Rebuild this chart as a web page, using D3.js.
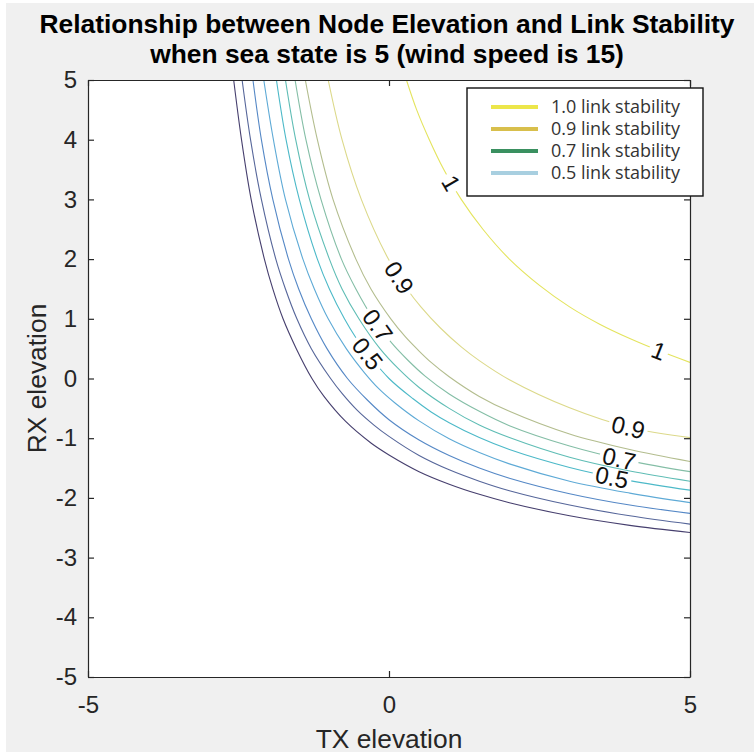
<!DOCTYPE html>
<html>
<head>
<meta charset="utf-8">
<script src="https://cdn.jsdelivr.net/npm/d3@7"></script>
<style>
html,body{margin:0;padding:0;background:#ffffff;}
svg{display:block;}
</style>
</head>
<body>
<svg id="chart" width="754" height="754"></svg>
<script>
// ---------- data ----------
const titleLines = ["Relationship between Node Elevation and Link Stability",
                    "when sea state is 5 (wind speed is 15)"];
const xLabel = "TX elevation";
const yLabel = "RX elevation";
const xTicks = [-5, 0, 5];
const yTicks = [-5, -4, -3, -2, -1, 0, 1, 2, 3, 4, 5];
const levels = [0.1, 0.2, 0.3, 0.4, 0.5, 0.6, 0.7, 0.8, 0.9, 1.0];

// contour lines, [TX elevation, RX elevation] points
const contour01 = [[-2.58,5],[-2.45,4],[-2.29,3],[-2.07,2],[-1.93,1.5],[-1.76,1],[-1.54,0.5],[-1.28,0],[-1.08,-0.3],[-0.72,-0.72],[-0.3,-1.08],[0,-1.28],[0.5,-1.56],[1,-1.77],[1.5,-1.94],[2,-2.08],[3,-2.3],[4,-2.46],[5,-2.58]];
const contour02 = [[-2.44,5],[-2.3,4],[-2.12,3],[-1.88,2],[-1.72,1.5],[-1.53,1],[-1.29,0.5],[-0.97,0],[-0.78,-0.25],[-0.53,-0.53],[-0.25,-0.78],[0,-0.97],[0.5,-1.29],[1,-1.53],[1.5,-1.72],[2,-1.88],[3,-2.12],[4,-2.3],[5,-2.44]];
const contour03 = [[-2.26,5],[-2.12,4],[-1.93,3],[-1.67,2],[-1.5,1.5],[-1.29,1],[-1.03,0.5],[-0.69,0],[-0.36,-0.36],[0,-0.69],[0.5,-1.03],[1,-1.29],[1.5,-1.5],[2,-1.67],[3,-1.93],[4,-2.12],[5,-2.26]];
const contour04 = [[-2.08,5],[-1.92,4],[-1.72,3],[-1.43,2],[-1.24,1.5],[-1.01,1],[-0.71,0.5],[-0.41,0.1],[-0.17,-0.17],[0.1,-0.41],[0.5,-0.71],[1,-1.01],[1.5,-1.24],[2,-1.43],[3,-1.72],[4,-1.92],[5,-2.08]];
const contour05 = [[-1.87,5],[-1.71,4],[-1.49,3],[-1.19,2],[-0.99,1.5],[-0.74,1],[-0.56,0.7],[-0.34,0.4],[0,0],[0.4,-0.34],[0.7,-0.56],[1,-0.74],[1.5,-0.99],[2,-1.19],[3,-1.49],[4,-1.71],[5,-1.87]];
const contour06 = [[-1.72,5],[-1.55,4],[-1.32,3],[-0.99,2],[-0.78,1.5],[-0.5,1],[-0.15,0.5],[0.16,0.16],[0.5,-0.15],[1,-0.5],[1.5,-0.78],[2,-0.99],[3,-1.32],[4,-1.55],[5,-1.72]];
const contour07 = [[-1.56,5],[-1.38,4],[-1.13,3],[-0.79,2],[-0.55,1.5],[-0.26,1],[0.04,0.6],[0.31,0.31],[0.6,0.04],[1,-0.26],[1.5,-0.55],[2,-0.79],[3,-1.13],[4,-1.38],[5,-1.56]];
const contour08 = [[-1.39,5],[-1.19,4],[-0.93,3],[-0.55,2],[-0.3,1.5],[0.03,1],[0.27,0.7],[0.48,0.48],[0.7,0.27],[1,0.03],[1.5,-0.3],[2,-0.55],[3,-0.93],[4,-1.19],[5,-1.39]];
const contour09 = [[-1.01,5],[-0.78,4],[-0.46,3],[-0.01,2],[0.3,1.5],[0.53,1.2],[0.85,0.85],[1.2,0.53],[1.5,0.3],[2,-0.02],[3,-0.49],[4,-0.82],[5,-0.99]];
const contour10 = [[0.29,5],[0.46,4.5],[0.67,4],[0.91,3.5],[1.2,3],[1.56,2.5],[2,2],[2.5,1.56],[3,1.2],[3.5,0.91],[4,0.67],[4.5,0.46],[5,0.27]];
const contours = [contour01, contour02, contour03, contour04, contour05, contour06, contour07, contour08, contour09, contour10];

// contour label anchors (level, approx TX, approx RX)
const labelLevels = [1.0, 1.0, 0.9, 0.9, 0.7, 0.5, 0.7, 0.5];
const labelTX     = [0.90, 4.45, 0.10, 3.95, -0.23, -0.33, 3.80, 3.69];
const labelRX     = [3.20, 0.39, 1.65, -0.91, 0.86, 0.44, -1.45, -1.73];

const legendLabels = ["1.0 link stability", "0.9 link stability", "0.7 link stability", "0.5 link stability"];

// ---------- styles ----------
const lineColors = ["#463f6e","#56669a","#5588c6","#5eaad6","#4cb9c8","#5fbdb5","#84bea6","#b3bd8e","#dcd98a","#e4e45e"];
const legendColors = ["#ece64a","#d8bf4c","#3a9060","#a8cfe0"];
const FONT = '"Liberation Sans", Arial, Helvetica, sans-serif';

// ---------- chart ----------
const svg = d3.select("#chart");
const plot = {left: 88, right: 690, top: 80, bottom: 677};
const x = d3.scaleLinear().domain([-5, 5]).range([plot.left, plot.right]);
const y = d3.scaleLinear().domain([-5, 5]).range([plot.bottom, plot.top]);

svg.append("rect").attr("x", 6).attr("y", 3).attr("width", 748).attr("height", 749).attr("fill", "#f0f0f0");
svg.append("rect").attr("x", plot.left).attr("y", plot.top)
   .attr("width", plot.right - plot.left).attr("height", plot.bottom - plot.top).attr("fill", "#ffffff");

const defs = svg.append("defs");
defs.append("clipPath").attr("id", "clip").append("rect")
   .attr("x", plot.left).attr("y", plot.top)
   .attr("width", plot.right - plot.left).attr("height", plot.bottom - plot.top);

const masks = levels.map((lv, i) => {
  const m = defs.append("mask").attr("id", "mask" + i).attr("maskUnits", "userSpaceOnUse")
     .attr("x", 0).attr("y", 0).attr("width", 754).attr("height", 754);
  m.append("rect").attr("x", 0).attr("y", 0).attr("width", 754).attr("height", 754).attr("fill", "white");
  return m;
});

const lineGen = d3.line().x(d => x(d[0])).y(d => y(d[1])).curve(d3.curveCatmullRom.alpha(0.5));
const gLines = svg.append("g").attr("clip-path", "url(#clip)");
const paths = contours.map((pts, i) =>
  gLines.append("path").attr("d", lineGen(pts)).attr("fill", "none")
    .attr("stroke", lineColors[i]).attr("stroke-width", 1.1)
    .attr("mask", "url(#mask" + i + ")"));

// contour labels
const gLab = svg.append("g");
labelLevels.forEach((lv, k) => {
  const i = levels.indexOf(lv);
  const node = paths[i].node();
  const L = node.getTotalLength();
  const tx = x(labelTX[k]), ty = y(labelRX[k]);
  let best = 0, bd = Infinity;
  for (let s = 0; s <= L; s += 0.5) {
    const p = node.getPointAtLength(s);
    const d = (p.x - tx) ** 2 + (p.y - ty) ** 2;
    if (d < bd) { bd = d; best = s; }
  }
  const p = node.getPointAtLength(best);
  const p0 = node.getPointAtLength(Math.max(0, best - 8));
  const p1 = node.getPointAtLength(Math.min(L, best + 8));
  let ang = Math.atan2(p1.y - p0.y, p1.x - p0.x) * 180 / Math.PI;
  if (ang > 90) ang -= 180;
  if (ang < -90) ang += 180;
  const tr = `translate(${p.x},${p.y}) rotate(${ang})`;
  const t = gLab.append("text").attr("transform", tr)
    .attr("text-anchor", "middle").attr("dy", "0.36em")
    .attr("font-family", FONT).attr("font-size", 24).attr("fill", "#111")
    .text(String(lv));
  const bb = t.node().getBBox();
  masks[i].append("rect").attr("transform", tr)
    .attr("x", -bb.width / 2 - 3).attr("y", -11).attr("width", bb.width + 6).attr("height", 22)
    .attr("fill", "black");
});

// axes
const axisColor = "#262626";
const fmtTick = d => String(d);
function styleAxis(g) {
  g.select(".domain").attr("stroke", axisColor).attr("stroke-width", 1.2);
  g.selectAll(".tick line").attr("stroke", axisColor).attr("stroke-width", 1.2);
  g.selectAll(".tick text").attr("fill", axisColor).attr("font-family", FONT).attr("font-size", 24);
}
svg.append("g").attr("transform", `translate(0,${plot.bottom})`)
  .call(d3.axisBottom(x).tickValues(xTicks).tickSizeInner(-6).tickSizeOuter(0).tickPadding(19).tickFormat(fmtTick))
  .call(styleAxis);
svg.append("g").attr("transform", `translate(0,${plot.top})`)
  .call(d3.axisTop(x).tickValues(xTicks).tickSizeInner(-6).tickSizeOuter(0).tickFormat(""))
  .call(styleAxis);
svg.append("g").attr("transform", `translate(${plot.left},0)`)
  .call(d3.axisLeft(y).tickValues(yTicks).tickSizeInner(-6).tickSizeOuter(0).tickPadding(11).tickFormat(fmtTick))
  .call(styleAxis);
svg.append("g").attr("transform", `translate(${plot.right},0)`)
  .call(d3.axisRight(y).tickValues(yTicks).tickSizeInner(-6).tickSizeOuter(0).tickFormat(""))
  .call(styleAxis);

// axis titles
svg.append("text").attr("x", (plot.left + plot.right) / 2).attr("y", 748)
  .attr("text-anchor", "middle").attr("font-family", FONT).attr("font-size", 26.4).attr("fill", axisColor)
  .text(xLabel);
svg.append("text").attr("transform", `translate(46,${(plot.top + plot.bottom) / 2}) rotate(-90)`)
  .attr("text-anchor", "middle").attr("font-family", FONT).attr("font-size", 26.4).attr("fill", axisColor)
  .text(yLabel);

// title
titleLines.forEach((s, i) => {
  svg.append("text").attr("x", 387).attr("y", 33 + i * 30)
    .attr("text-anchor", "middle").attr("font-family", FONT).attr("font-size", 26.4)
    .attr("font-weight", "bold").attr("fill", "#000").text(s);
});

// legend
const lg = svg.append("g");
lg.append("rect").attr("x", 467).attr("y", 88).attr("width", 236).attr("height", 108)
  .attr("fill", "#fff").attr("stroke", "#111").attr("stroke-width", 1.4);
legendLabels.forEach((s, i) => {
  const yy = 107 + i * 22;
  lg.append("line").attr("x1", 491).attr("x2", 538).attr("y1", yy).attr("y2", yy)
    .attr("stroke", legendColors[i]).attr("stroke-width", 4);
  lg.append("text").attr("x", 551).attr("y", yy).attr("dy", "0.36em")
    .attr("font-family", "'Open Sans', Lato, sans-serif").attr("font-size", 17.5)
    .attr("fill", "#333333").attr("textLength", 129).attr("lengthAdjust", "spacingAndGlyphs").text(s);
});
</script>
</body>
</html>
